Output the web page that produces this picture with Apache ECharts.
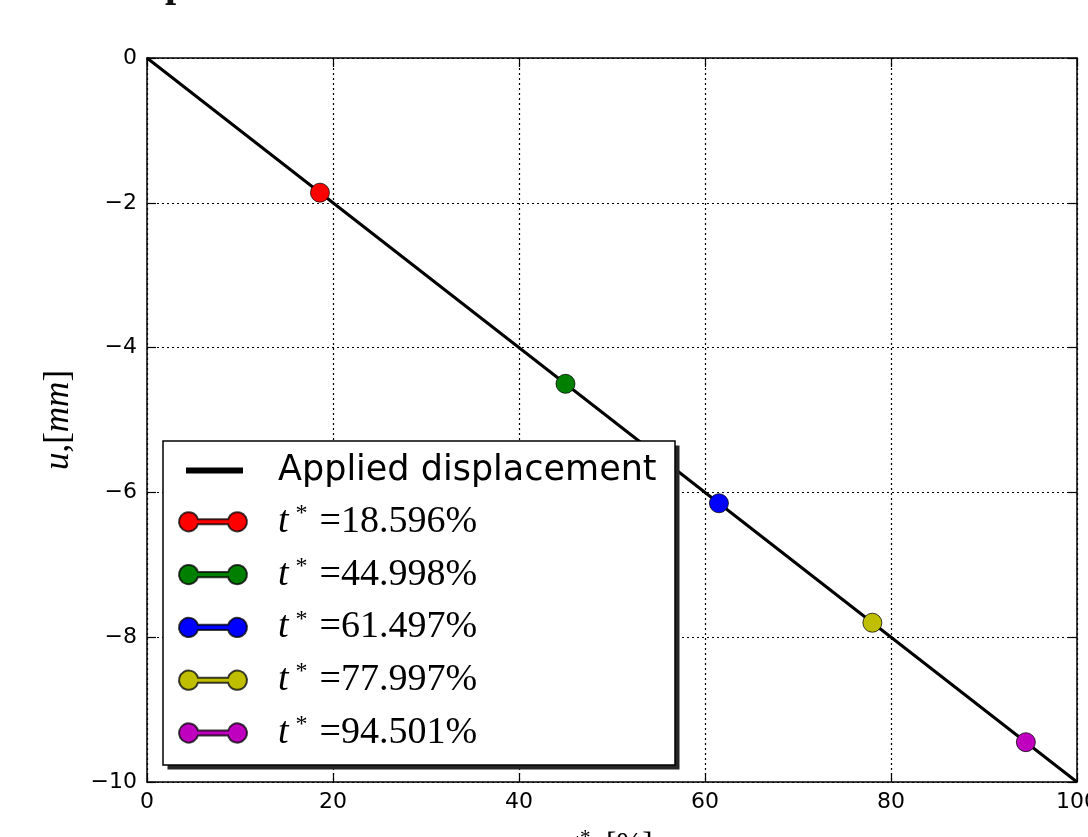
<!DOCTYPE html>
<html>
<head>
<meta charset="utf-8">
<script src="https://cdn.jsdelivr.net/npm/echarts@6/dist/echarts.min.js"></script>
<style>html,body{margin:0;padding:0;background:#fff}#c{width:1088px;height:837px}</style>
</head>
<body>
<div id="c"></div>
<script>
// ---- data ----
const lineName = 'Applied displacement';
const lineX = [0, 100];
const lineU = [0, -10];
const tValues = [18.596, 44.998, 61.497, 77.997, 94.501];
const uValues = [-1.86, -4.50, -6.15, -7.80, -9.45];
const markerColors = ['#ff0000', '#007f00', '#0000ff', '#bfbf00', '#bf00bf'];
const titleFragment = 'p';

const markerNames = tValues.map(t => 't* =' + t.toFixed(3) + '%');

const markerIcon = 'path://M19.165,7.5 L48.835,7.5 A9.5,9.5 0 1,1 48.835,12.5 L19.165,12.5 A9.5,9.5 0 1,1 19.165,7.5 Z';
const lineIcon = 'path://M0,0 M7,7 L64,7 L64,13 L7,13 Z M68,20';

const serif = '"Liberation Serif", "DejaVu Serif", serif';
const sans = '"DejaVu Sans", sans-serif';

const series = [{
  name: lineName,
  type: 'line',
  data: lineX.map((x, i) => [x, lineU[i]]),
  symbol: 'none',
  lineStyle: { color: '#000', width: 3 },
  itemStyle: { color: '#000' },
  z: 2,
  silent: true
}];
tValues.forEach((t, i) => {
  series.push({
    name: markerNames[i],
    type: 'line',
    data: [[t, uValues[i]]],
    symbol: 'circle',
    symbolSize: 19,
    itemStyle: { color: markerColors[i], borderColor: 'rgba(0,0,0,0.75)', borderWidth: 1 },
    lineStyle: { color: markerColors[i], width: 5 },
    z: 3,
    silent: true
  });
});

const axisLine = () => ({ show: true, onZero: false, lineStyle: { color: '#000', width: 1.5 } });
const tickStyle = () => ({ show: true, inside: true, length: 9, lineStyle: { color: '#000', width: 1.2 } });
const gridLine = () => ({ show: true, lineStyle: { color: '#000', width: 1.2, type: [2, 3] } });

const chart = echarts.init(document.getElementById('c'));
chart.setOption({
  animation: false,
  backgroundColor: '#fff',
  grid: { left: 147, right: 11, top: 58, bottom: 55, containLabel: false, outerBoundsMode: 'none' },
  graphic: [{
    type: 'text', left: 165, top: -34, z: 1,
    style: { text: titleFragment, font: 'bold 40px ' + serif, fill: '#111' }
  }, {
    type: 'rect', z: 3, silent: true,
    shape: { x: 167.5, y: 445.5, width: 512, height: 324 },
    style: { fill: '#262626' }
  }, {
    type: 'rect', z: 3.5, silent: true,
    shape: { x: 163, y: 441, width: 512, height: 324 },
    style: { fill: '#fff', stroke: '#000', lineWidth: 1.5 }
  }],
  xAxis: [{
    type: 'value', min: 0, max: 100, interval: 20,
    axisLine: axisLine(),
    axisTick: tickStyle(),
    axisLabel: { color: '#000', fontSize: 22, fontFamily: sans, margin: 9 },
    splitLine: gridLine(),
    name: '{i|t}{s|*}{r|, [%]}', nameLocation: 'middle', nameGap: 46,
    nameTextStyle: {
      color: '#000',
      rich: {
        i: { fontFamily: serif, fontStyle: 'italic', fontSize: 31, lineHeight: 36, color: '#000' },
        s: { fontFamily: serif, fontSize: 21, lineHeight: 36, verticalAlign: 'top', color: '#000' },
        r: { fontFamily: serif, fontSize: 31, lineHeight: 36, color: '#000' }
      }
    }
  }, {
    type: 'value', min: 0, max: 100, interval: 20, position: 'top',
    axisLine: axisLine(),
    axisTick: tickStyle(),
    axisLabel: { show: false }, splitLine: { show: false }
  }],
  yAxis: [{
    type: 'value', min: -10, max: 0, interval: 2,
    axisLine: axisLine(),
    axisTick: tickStyle(),
    axisLabel: { color: '#000', fontSize: 22, fontFamily: sans, margin: 10,
      formatter: v => String(v).replace('-', '\u2212') },
    splitLine: gridLine(),
    name: '{i|u}{r|,[}{i|mm}{r|]}', nameLocation: 'middle', nameGap: 68, nameRotate: 90,
    nameTextStyle: {
      color: '#000',
      rich: {
        i: { fontFamily: serif, fontStyle: 'italic', fontSize: 35, lineHeight: 40, color: '#000' },
        r: { fontFamily: serif, fontSize: 35, lineHeight: 40, color: '#000' }
      }
    }
  }, {
    type: 'value', min: -10, max: 0, interval: 2, position: 'right',
    axisLine: axisLine(),
    axisTick: tickStyle(),
    axisLabel: { show: false }, splitLine: { show: false }
  }],
  legend: {
    orient: 'vertical',
    left: 163, top: 441,
    itemWidth: 68, itemHeight: 20, itemGap: 13.8,
    padding: [12, 0, 0, 15],
    backgroundColor: 'transparent',
    borderWidth: 0,
    selectedMode: false,
    z: 4,
    data: [{ name: lineName, icon: lineIcon }].concat(markerNames.map(n => ({ name: n, icon: markerIcon }))),
    formatter: function (name) {
      if (name === lineName) return '{a|' + name + '}';
      const rest = name.replace('t* ', '');
      return '{t|t}{s|*}{v|' + rest + '}';
    },
    textStyle: {
      color: '#000',
      padding: [0, 0, 0, 26],
      rich: {
        a: { fontFamily: sans, fontSize: 35, lineHeight: 40, color: '#000' },
        t: { fontFamily: serif, fontStyle: 'italic', fontSize: 38, lineHeight: 40, color: '#000' },
        s: { fontFamily: serif, fontSize: 24, lineHeight: 40, verticalAlign: 'top', color: '#000', padding: [0, 12, 0, 7] },
        v: { fontFamily: serif, fontSize: 38, lineHeight: 40, color: '#000' }
      }
    }
  },
  series: series
});
</script>
</body>
</html>
